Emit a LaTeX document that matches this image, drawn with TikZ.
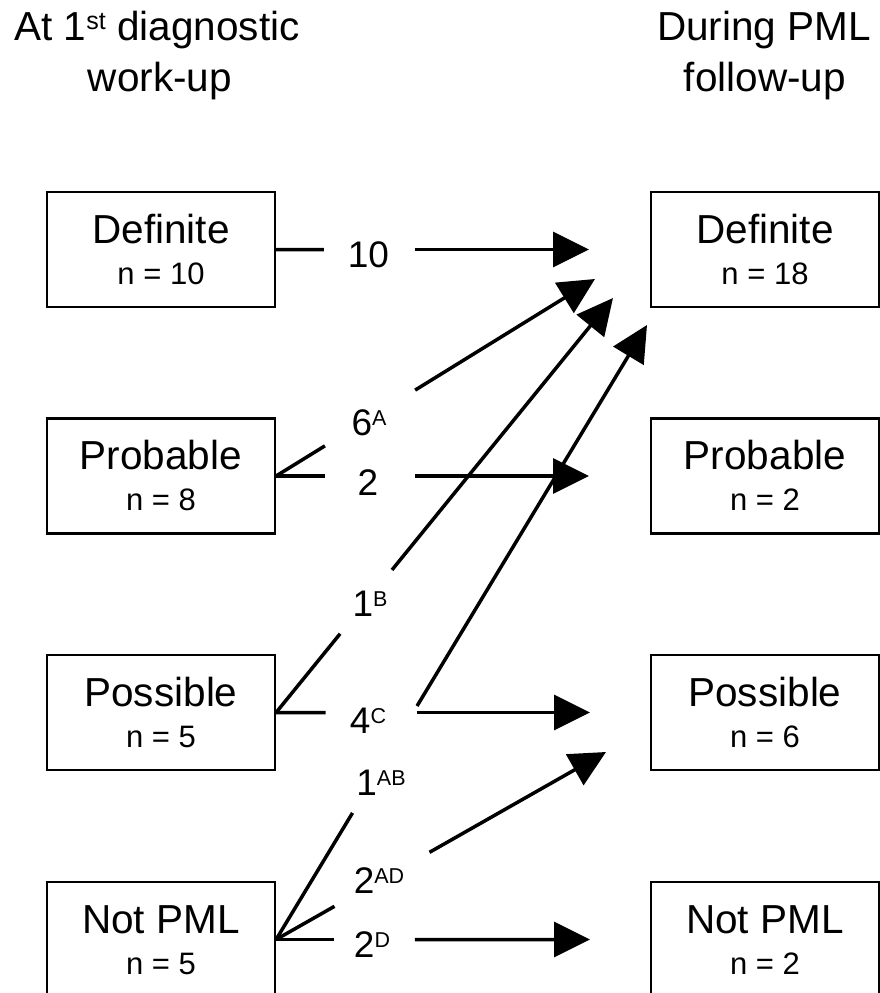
\documentclass[tikz,border=0pt]{standalone}
\usepackage{fontspec}
\setmainfont{Liberation Sans}
\usetikzlibrary{arrows.meta,calc}
\newcommand{\sups}[1]{\raisebox{10pt}{\fontsize{21.5}{21.5}\selectfont #1}}
\newcommand{\tsup}[1]{\raisebox{11pt}{\fontsize{25}{25}\selectfont #1}}
\newcommand{\gapline}[4]{%
  \draw[conn] (#1) -- ($(#1)!#3!(#2)$);
  \draw[conn,arr] ($(#1)!#4!(#2)$) -- (#2);}
\tikzset{
  box/.style={draw,line width=2.2pt,rectangle,minimum width=228pt,minimum height=115pt,inner sep=0pt},
  bigtxt/.style={anchor=base,inner sep=0pt,font=\fontsize{40.5}{42}\selectfont},
  ntxt/.style={anchor=base,inner sep=0pt,font=\fontsize{31}{33}\selectfont},
  lbl/.style={anchor=base,inner sep=0pt,font=\fontsize{37}{39}\selectfont},
  ttl/.style={anchor=base,inner sep=0pt,font=\fontsize{40.5}{42}\selectfont},
  conn/.style={line width=3.5pt},
  arr/.style={-{Triangle[length=36pt,width=35pt]}}
}
\begin{document}
\begin{tikzpicture}[x=1pt,y=-1pt]
\useasboundingbox (0,0) rectangle (880,993);
\clip (0,0) rectangle (880,993);
% titles
\node[ttl] (t1a) at (157,40) {At 1\tsup{st} diagnostic};
\node[ttl] (t1b) at (160,91) {work-up};
\node[ttl] (t2a) at (764,40) {During PML};
\node[ttl] (t2b) at (765,91) {follow-up};
% left boxes
\node[box] (LDef) at (161,249.5) {};
\node[box] (LPro) at (161,476) {};
\node[box] (LPos) at (161,712.5) {};
\node[box] (LNot) at (161,939.5) {};
% right boxes
\node[box] (RDef) at (765,249.5) {};
\node[box] (RPro) at (765,476) {};
\node[box] (RPos) at (765,712.5) {};
\node[box] (RNot) at (765,939.5) {};
% box texts
\node[bigtxt] (LDefa) at ($(LDef)+(0,-6.5)$) {Definite};
\node[ntxt] (LDefb) at ($(LDef)+(0,34.5)$) {n = 10};
\node[bigtxt] (LProa) at ($(LPro)+(0,-6.5)$) {Probable};
\node[ntxt] (LProb) at ($(LPro)+(0,34.5)$) {n = 8};
\node[bigtxt] (LPosa) at ($(LPos)+(0,-6.5)$) {Possible};
\node[ntxt] (LPosb) at ($(LPos)+(0,34.5)$) {n = 5};
\node[bigtxt] (LNota) at ($(LNot)+(0,-6.5)$) {Not PML};
\node[ntxt] (LNotb) at ($(LNot)+(0,34.5)$) {n = 5};
\node[bigtxt] (RDefa) at ($(RDef)+(0,-6.5)$) {Definite};
\node[ntxt] (RDefb) at ($(RDef)+(0,34.5)$) {n = 18};
\node[bigtxt] (RProa) at ($(RPro)+(0,-6.5)$) {Probable};
\node[ntxt] (RProb) at ($(RPro)+(0,34.5)$) {n = 2};
\node[bigtxt] (RPosa) at ($(RPos)+(0,-6.5)$) {Possible};
\node[ntxt] (RPosb) at ($(RPos)+(0,34.5)$) {n = 6};
\node[bigtxt] (RNota) at ($(RNot)+(0,-6.5)$) {Not PML};
\node[ntxt] (RNotb) at ($(RNot)+(0,34.5)$) {n = 2};
% arrow tips
\coordinate (tD0) at (589,249.5);
\coordinate (tD1) at (595,279);
\coordinate (tD2) at (613,298);
\coordinate (tD3) at (647,325);
\coordinate (tP0) at (589,476);
\coordinate (tS0) at (590,712.5);
\coordinate (tS1) at (606,752);
\coordinate (tN0) at (590,939.5);
% connectors
\gapline{LDef.east}{tD0}{0.153}{0.443}
\gapline{LPro.east}{tD1}{0.153}{0.436}
\gapline{LPro.east}{tP0}{0.156}{0.444}
\gapline{LPos.east}{tD2}{0.19}{0.344}
\gapline{LPos.east}{tS0}{0.158}{0.448}
\gapline{LNot.east}{tD3}{0.206}{0.38}
\gapline{LNot.east}{tS1}{0.177}{0.465}
\gapline{LNot.east}{tN0}{0.186}{0.442}
% labels
\node[lbl] (n10) at (368.5,267) {10};
\node[lbl] (n6A) at (369,435) {6\sups{A}};
\node[lbl] (n2) at (368,495) {2};
\node[lbl] (n1B) at (370,616) {1\sups{B}};
\node[lbl] (n4C) at (368,733) {4\sups{C}};
\node[lbl] (n1AB) at (381,795) {1\sups{AB}};
\node[lbl] (n2AD) at (379,893) {2\sups{AD}};
\node[lbl] (n2D) at (372,957) {2\sups{D}};
\end{tikzpicture}
\end{document}
